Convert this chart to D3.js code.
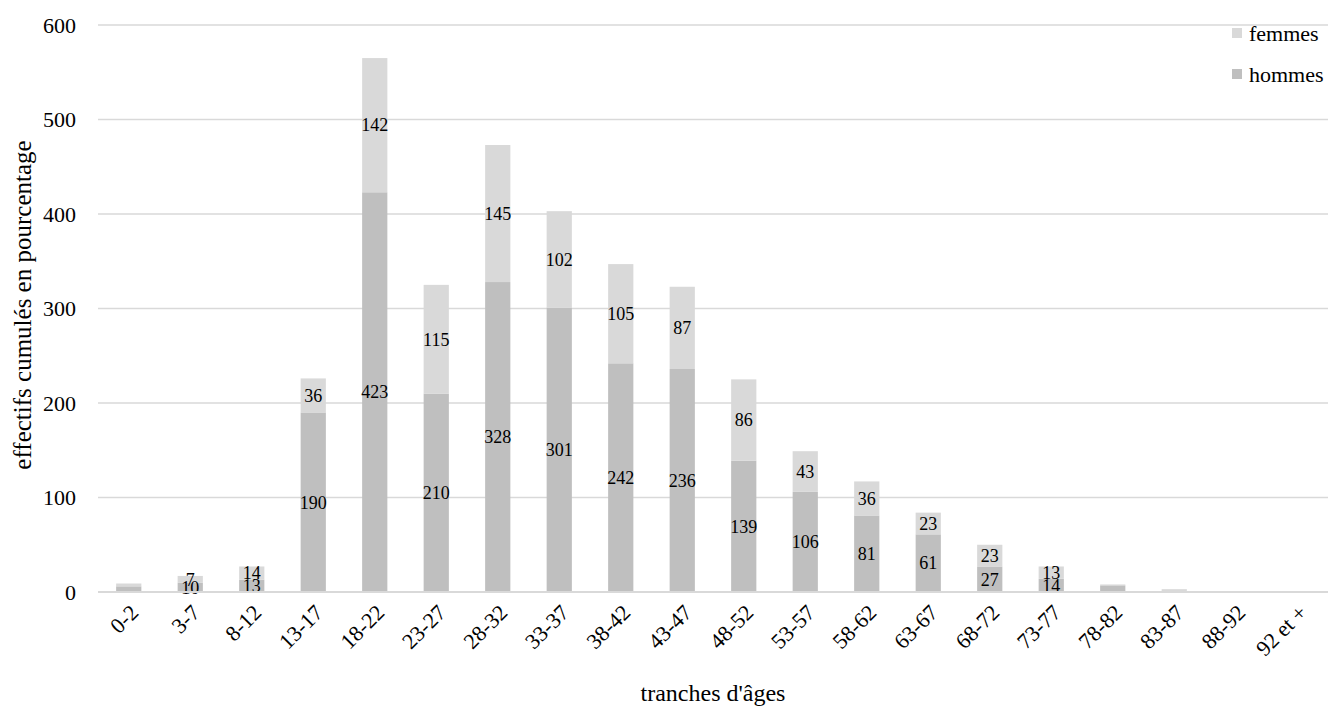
<!DOCTYPE html>
<html><head><meta charset="utf-8">
<script src="https://cdn.jsdelivr.net/npm/d3@7"></script>
<style>body{margin:0;background:#fff;}svg{display:block;}svg text{font-family:"Liberation Serif","Times New Roman",serif;}</style>
</head><body><svg id="c" width="1330" height="706"></svg>
<script>
const categories = ["0-2","3-7","8-12","13-17","18-22","23-27","28-32","33-37","38-42","43-47","48-52","53-57","58-62","63-67","68-72","73-77","78-82","83-87","88-92","92 et +"];
const hommes = [6,10,13,190,423,210,328,301,242,236,139,106,81,61,27,14,7,0,0,0];
const femmes = [3,7,14,36,142,115,145,102,105,87,86,43,36,23,23,13,1,3,0,0];
const yTicks = [0,100,200,300,400,500,600];
const seriesNames = ["hommes","femmes"];
const colors = {hommes:"#bfbfbf", femmes:"#d9d9d9"};

const svg = d3.select("#c");
const m = {left:98, right:1328, top:25, bottom:592};
const x = d3.scaleBand().domain(categories).range([m.left, m.right]).paddingInner(0.59).paddingOuter(0.295);
const y = d3.scaleLinear().domain([0,600]).range([m.bottom, m.top]);

// gridlines
svg.append("g").selectAll("line").data(yTicks.filter(d=>d>0)).join("line")
  .attr("x1", m.left).attr("x2", m.right)
  .attr("y1", d=>y(d)).attr("y2", d=>y(d))
  .attr("stroke","#d9d9d9").attr("stroke-width",1.3);

const rows = categories.map((c,i)=>({cat:c, hommes:hommes[i], femmes:femmes[i]}));
const stack = d3.stack().keys(seriesNames)(rows);

const g = svg.append("g");
stack.forEach(s=>{
  g.append("g").selectAll("rect").data(s).join("rect")
    .attr("x", d=>x(d.data.cat)).attr("width", x.bandwidth())
    .attr("y", d=>y(d[1])).attr("height", d=>y(d[0])-y(d[1]))
    .attr("fill", colors[s.key]);
});

// data labels
stack.forEach(s=>{
  g.append("g").selectAll("text").data(s.filter(d=>(d[1]-d[0])>=7 && (d.data.hommes+d.data.femmes)>=15)).join("text")
    .attr("x", d=>x(d.data.cat)+x.bandwidth()/2)
    .attr("y", d=>y((d[0]+d[1])/2))
    .attr("dy","0.35em")
    .attr("text-anchor","middle")
    .attr("font-size",18).attr("fill","#000")
    .text(d=>d[1]-d[0]);
});

// x axis line
svg.append("line").attr("x1",m.left).attr("x2",m.right).attr("y1",y(0)).attr("y2",y(0))
  .attr("stroke","#d9d9d9").attr("stroke-width",2);

// y axis labels
const yAxis = d3.axisLeft(y).tickValues(yTicks).tickSize(0).tickPadding(0);
const ya = svg.append("g").attr("transform",`translate(${m.left-22},0)`).call(yAxis);
ya.attr("font-family",null);
ya.select(".domain").remove();
ya.selectAll("text").attr("font-size",22).attr("fill","#000");

// x axis labels
const xAxis = d3.axisBottom(x).tickSize(0).tickPadding(0);
const xa = svg.append("g").attr("transform",`translate(0,${y(0)})`).call(xAxis);
xa.attr("font-family",null);
xa.select(".domain").remove();
xa.selectAll("text").attr("font-size",22).attr("fill","#000")
  .attr("text-anchor","end").attr("dy",null).attr("y",0)
  .attr("transform","translate(11,22) rotate(-45)");

// axis titles
svg.append("text").attr("x",713).attr("y",701).attr("text-anchor","middle").attr("font-size",24).text("tranches d'âges");
svg.append("text").attr("transform","translate(31,305) rotate(-90)").attr("text-anchor","middle").attr("font-size",25).text("effectifs cumulés en pourcentage");

// legend
const legendItems = ["femmes","hommes"];
const lg = svg.append("g");
legendItems.forEach((k,i)=>{
  const yy = 33 + i*41;
  lg.append("rect").attr("x",1232).attr("y",yy-5).attr("width",10).attr("height",10).attr("fill",colors[k]);
  lg.append("text").attr("x",1249).attr("y",yy).attr("dy","0.35em").attr("font-size",22).text(k);
});
</script></body></html>
